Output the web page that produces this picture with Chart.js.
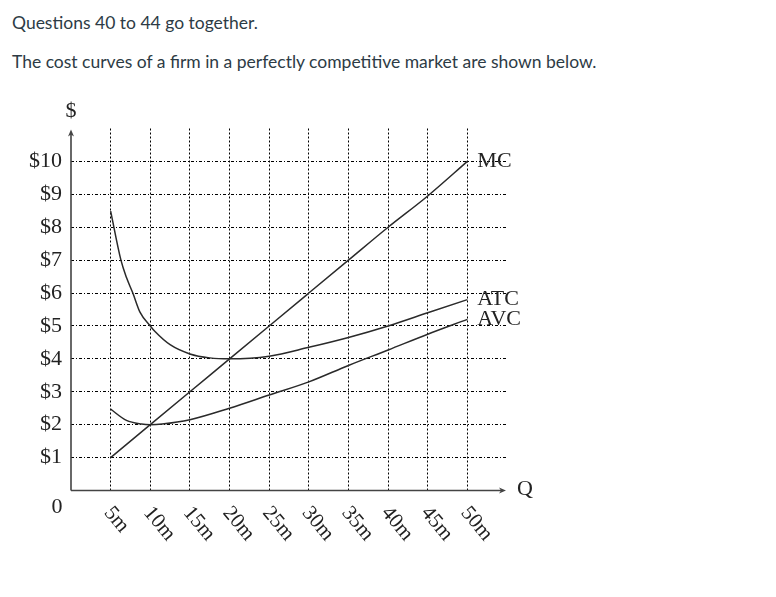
<!DOCTYPE html>
<html>
<head>
<meta charset="utf-8">
<script src="https://cdn.jsdelivr.net/npm/chart.js@4.4.0/dist/chart.umd.min.js"></script>
<style>
    html, body { margin: 0; padding: 0; background: #fff; }
    body { width: 776px; height: 597px; position: relative; overflow: hidden; }
    .txt {
        position: absolute;
        left: 12px;
        margin: 0;
        font-family: Lato, sans-serif;
        font-size: 17.5px;
        line-height: 20px;
        color: #2d3b45;
        white-space: nowrap;
    }
    #chart { position: absolute; left: 0; top: 0; }
</style>
</head>
<body>
<p class="txt" style="top: 12.5px;">Questions 40 to 44 go together.</p>
<p class="txt" style="top: 51.5px;">The cost curves of a firm in a perfectly competitive market are shown below.</p>
<canvas id="chart" width="776" height="597"></canvas>
<script>
    'use strict';

    // ============================================
    // Data
    // ============================================

    // quantity ticks (millions) and their labels
    const qTicks = [5, 10, 15, 20, 25, 30, 35, 40, 45, 50];
    const qLabels = ['5m', '10m', '15m', '20m', '25m', '30m', '35m', '40m', '45m', '50m'];

    // price ticks
    const priceTicks = [1, 2, 3, 4, 5, 6, 7, 8, 9, 10];
    const priceLabels = ['$1', '$2', '$3', '$4', '$5', '$6', '$7', '$8', '$9', '$10'];

    // marginal cost
    const mcQ = [5, 10, 15, 20, 25, 30, 35, 40, 45, 50];
    const mcCost = [1, 2, 3, 4, 5, 6, 7, 8, 8.95, 10];

    // average total cost
    const atcQ = [5, 6.3, 7, 7.8, 8.7, 10, 10.6, 12.5, 15, 17.5, 20, 25, 30, 35, 40, 45, 50];
    const atcCost = [8.49, 7.0, 6.47, 6.0, 5.42, 5.0, 4.83, 4.43, 4.15, 4.03, 4.0, 4.08, 4.35, 4.65, 5.0, 5.4, 5.8];

    // average variable cost
    const avcQ = [5, 7, 8.9, 10, 11.5, 15, 20, 25, 30, 35, 40, 45, 50];
    const avcCost = [2.47, 2.13, 2.02, 2.0, 2.02, 2.15, 2.5, 2.9, 3.3, 3.8, 4.27, 4.75, 5.2];

    // ============================================
    // Style
    // ============================================

    const CONFIG = {
        serif: "'Liberation Serif', 'DejaVu Serif', serif",
        ink: '#222',
        axis: '#444',
        grid: '#000',
        curve: '#2a2a2a'
    };

    function toPoints(xs, ys) {
        return xs.map((x, i) => ({ x: x, y: ys[i] }));
    }

    function curve(label, xs, ys) {
        return {
            label: label,
            data: toPoints(xs, ys),
            borderColor: CONFIG.curve,
            borderWidth: 1.5,
            pointRadius: 0,
            fill: false,
            cubicInterpolationMode: 'monotone'
        };
    }

    // ============================================
    // Plugin: axes with arrows, rotated Q labels,
    // curve names and the extra axis text
    // ============================================

    const decorations = {
        id: 'decorations',
        afterDatasetsDraw(chart) {
            const ctx = chart.ctx;
            const xs = chart.scales.x;
            const ys = chart.scales.y;
            const area = chart.chartArea;
            const x0 = xs.getPixelForValue(0);
            const y0 = ys.getPixelForValue(0);

            ctx.save();

            // axes
            ctx.strokeStyle = CONFIG.axis;
            ctx.fillStyle = CONFIG.axis;
            ctx.lineWidth = 1.6;
            ctx.beginPath();
            ctx.moveTo(x0, y0);
            ctx.lineTo(x0, area.top + 5);
            ctx.moveTo(x0, y0);
            ctx.lineTo(area.right - 5, y0);
            ctx.stroke();

            // arrow heads
            ctx.beginPath();
            ctx.moveTo(x0, area.top + 1);
            ctx.lineTo(x0 - 3, area.top + 8);
            ctx.lineTo(x0, area.top + 6);
            ctx.lineTo(x0 + 3, area.top + 8);
            ctx.closePath();
            ctx.fill();
            ctx.beginPath();
            ctx.moveTo(area.right - 1, y0);
            ctx.lineTo(area.right - 8, y0 - 3);
            ctx.lineTo(area.right - 6, y0);
            ctx.lineTo(area.right - 8, y0 + 3);
            ctx.closePath();
            ctx.fill();

            // axis letters
            ctx.fillStyle = CONFIG.ink;
            ctx.font = '22px ' + CONFIG.serif;
            ctx.textBaseline = 'middle';
            ctx.textAlign = 'center';
            ctx.fillText('$', x0, area.top - 17);
            ctx.fillText('0', x0 - 14, y0 + 17);
            ctx.textAlign = 'left';
            ctx.fillText('Q', area.right + 10, y0 - 1);

            // rotated quantity labels
            ctx.font = '21px ' + CONFIG.serif;
            qTicks.forEach((q, i) => {
                const px = xs.getPixelForValue(q);
                ctx.save();
                ctx.translate(px - 3, y0 + 19);
                ctx.rotate(50 * Math.PI / 180);
                ctx.textAlign = 'left';
                ctx.textBaseline = 'middle';
                ctx.fillText(qLabels[i], 0, 0);
                ctx.restore();
            });

            // curve names at the right end of each curve
            ctx.font = '22px ' + CONFIG.serif;
            ctx.textAlign = 'left';
            ctx.textBaseline = 'middle';
            chart.data.datasets.forEach((ds, i) => {
                const pts = chart.getDatasetMeta(i).data;
                const last = pts[pts.length - 1];
                ctx.fillText(ds.label, last.x + 10, last.y);
            });

            ctx.restore();
        }
    };

    // ============================================
    // Chart
    // ============================================

    Chart.defaults.font.family = CONFIG.serif;

    new Chart(document.getElementById('chart'), {
        type: 'line',
        data: {
            datasets: [
                curve('MC', mcQ, mcCost),
                curve('ATC', atcQ, atcCost),
                curve('AVC', avcQ, avcCost)
            ]
        },
        options: {
            responsive: false,
            animation: false,
            devicePixelRatio: 1,
            layout: {
                padding: { left: 20, right: 269, top: 128.5, bottom: 106.5 }
            },
            plugins: {
                legend: { display: false },
                tooltip: { enabled: false }
            },
            scales: {
                x: {
                    type: 'linear',
                    min: 0,
                    max: 55,
                    afterBuildTicks: (scale) => {
                        scale.ticks = qTicks.map(v => ({ value: v }));
                    },
                    ticks: { display: false },
                    grid: {
                        color: CONFIG.grid,
                        lineWidth: 1,
                        drawTicks: false
                    },
                    border: { display: false, dash: [2, 2] }
                },
                y: {
                    type: 'linear',
                    min: 0,
                    max: 11,
                    afterBuildTicks: (scale) => {
                        scale.ticks = priceTicks.map(v => ({ value: v }));
                    },
                    ticks: {
                        padding: 9,
                        color: CONFIG.ink,
                        font: { size: 22 },
                        callback: (value) => priceLabels[priceTicks.indexOf(value)]
                    },
                    grid: {
                        color: CONFIG.grid,
                        lineWidth: 1,
                        drawTicks: false
                    },
                    border: { display: false, dash: [3, 2, 1, 2] }
                }
            }
        },
        plugins: [decorations]
    });
</script>
</body>
</html>
